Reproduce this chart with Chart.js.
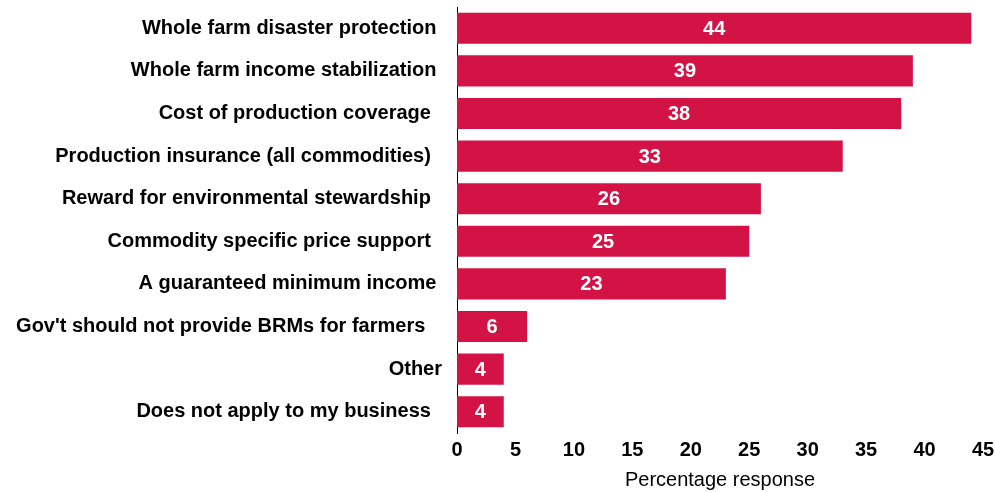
<!DOCTYPE html>
<html>
<head>
<meta charset="utf-8">
<script src="https://cdn.jsdelivr.net/npm/chart.js@4.4.1/dist/chart.umd.min.js"></script>
<style>
  html, body { margin: 0; padding: 0; background: #fff; }
  #wrap { width: 995px; height: 492px; }
</style>
</head>
<body>
<div id="wrap"><canvas id="chart"></canvas></div>
<script>
var categories = [
  "Whole farm disaster protection ",
  "Whole farm income stabilization ",
  "Cost of production coverage  ",
  "Production insurance (all commodities)  ",
  "Reward for environmental stewardship  ",
  "Commodity specific price support  ",
  "A guaranteed minimum income ",
  "Gov't should not provide BRMs for farmers   ",
  "Other",
  "Does not apply to my business  "
];
var responses = [44, 39, 38, 33, 26, 25, 23, 6, 4, 4];
var xTicks = [0, 5, 10, 15, 20, 25, 30, 35, 40, 45];

var barColor = "#d31245";
var fontFamily = "'Liberation Sans', Arial, sans-serif";

// draws the value in the middle of each bar
var valueLabels = {
  id: "valueLabels",
  afterDatasetsDraw: function(chart) {
    var ctx = chart.ctx;
    var meta = chart.getDatasetMeta(0);
    ctx.save();
    ctx.fillStyle = "#ffffff";
    ctx.font = "bold 20px " + fontFamily;
    ctx.textAlign = "center";
    ctx.textBaseline = "middle";
    meta.data.forEach(function(bar, i) {
      var cx = (bar.x + bar.base) / 2;
      ctx.fillText(responses[i], cx, bar.y + 1);
    });
    ctx.restore();
  }
};

var ctx = document.getElementById("chart").getContext("2d");
var myChart = new Chart(ctx, {
  type: "bar",
  data: {
    labels: categories,
    datasets: [{
      data: responses,
      backgroundColor: barColor,
      borderWidth: 0,
      barPercentage: 0.73,
      categoryPercentage: 1.0
    }]
  },
  options: {
    indexAxis: "y",
    responsive: true,
    maintainAspectRatio: false,
    animation: false,
    layout: { padding: { top: 7, right: 12, bottom: 0, left: 0 } },
    plugins: {
      legend: { display: false },
      tooltip: { enabled: false }
    },
    scales: {
      x: {
        min: 0,
        max: 45,
        afterBuildTicks: function(scale) {
          scale.ticks = xTicks.map(function(v) { return { value: v }; });
        },
        afterFit: function(scale) {
          scale.height = 59;
          scale.paddingLeft = 0;
          scale.paddingRight = 0;
        },
        grid: { display: false, drawTicks: false },
        border: { display: false },
        ticks: {
          color: "#000",
          padding: 5,
          font: { family: fontFamily, size: 20, weight: "bold" }
        },
        title: {
          display: true,
          text: "Percentage response",
          color: "#000",
          padding: { top: 3, bottom: 0 },
          font: { family: fontFamily, size: 20 }
        }
      },
      y: {
        afterFit: function(scale) {
          scale.width = 457;
          scale.paddingTop = 0;
          scale.paddingBottom = 0;
        },
        grid: { display: false, drawTicks: false },
        border: { display: true, color: "#000", width: 1 },
        ticks: {
          color: "#000",
          padding: 15,
          autoSkip: false,
          font: { family: fontFamily, size: 20, weight: "bold" }
        }
      }
    }
  },
  plugins: [valueLabels]
});
</script>
</body>
</html>
